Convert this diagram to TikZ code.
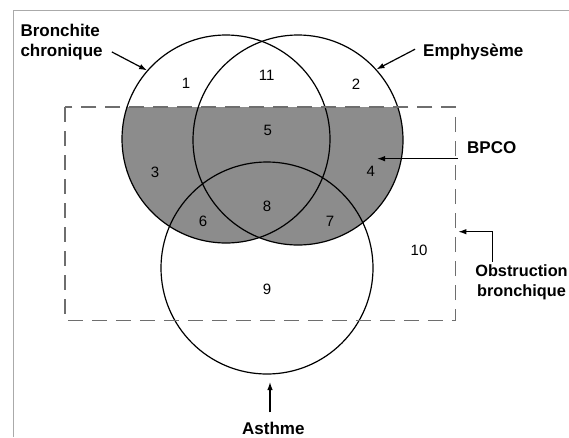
\documentclass[tikz,border=0pt]{standalone}
\usepackage{fontspec}
\setmainfont{Liberation Sans}
\usetikzlibrary{arrows.meta}
\definecolor{bpcofill}{RGB}{140,140,140}
\definecolor{dashgrey}{RGB}{110,110,110}
\definecolor{framegrey}{RGB}{170,170,170}
\tikzset{
  lbl/.style={font=\fontsize{17}{20}\selectfont\bfseries, inner sep=0pt},
  zone/.style={font=\fontsize{15}{17}\selectfont, inner sep=0pt},
  pointer/.style={line width=1.2pt, -{Latex[length=8pt,width=5.5pt]}},
  venn/.style={circle, draw, line width=1.2pt, inner sep=0pt},
  obstrbox/.style={draw=dashgrey, line width=1.7pt, dash pattern=on 15pt off 9pt}
}
\begin{document}
\begin{tikzpicture}[x=1pt,y=-1pt]
  \useasboundingbox (0,0) rectangle (569,437);
  \clip (0,0) rectangle (569,437);
  \draw[framegrey, line width=1.5pt] (13.3,437) -- (13.3,10.7) -- (569,10.7);
  \begin{scope}
    \clip (65,107.3) rectangle (569,437);
    \fill[bpcofill] (226,139) circle (104pt) (298,140) circle (105pt);
  \end{scope}
  \node[venn, minimum size=208pt] (bronchite c) at (226,139) {};
  \node[venn, minimum size=210pt] (emph c) at (298,140) {};
  \node[venn, minimum size=212pt] (asthme c) at (267,268) {};
  \draw[obstrbox] (65,107.3) rectangle (455.5,320.5);

  \node[zone] (z1) at (186,83) {1};
  \node[zone] (z2) at (356,84) {2};
  \node[zone] (z3) at (155,172) {3};
  \node[zone] (z4) at (370.7,171) {4};
  \node[zone] (z5) at (267.7,130) {5};
  \node[zone] (z6) at (203,221) {6};
  \node[zone] (z7) at (330,221) {7};
  \node[zone] (z8) at (267,206) {8};
  \node[zone] (z9) at (267,289) {9};
  \node[zone] (z10) at (419,250) {10};
  \node[zone] (z11) at (266.7,75) {11};

  \node[lbl, align=left, anchor=north west] (bronchite) at (20.3,23.7) {Bronchite\\chronique};
  \node[lbl, anchor=base west] (emph) at (423,56.7) {Emphysème};
  \node[lbl, anchor=base west] (bpco) at (467,153.3) {BPCO};
  \node[lbl, font=\fontsize{16.3}{20}\selectfont\bfseries, align=center, anchor=north] (obstr) at (521.5,264.6) {Obstruction\\bronchique};
  \node[lbl, anchor=base] (asthme) at (273.3,434) {Asthme};

  \coordinate (bpco tip) at (377,158.3);
  \coordinate (obstr tip) at (458.3,231.7);
  \coordinate (asthme tip) at (270,382);
  \draw[pointer] ([xshift=9pt,yshift=8pt]bronchite.south east) -- (bronchite c.139);
  \draw[pointer] ([xshift=-8pt,yshift=3pt]emph.west) -- (emph c.42);
  \draw[pointer] ([xshift=-9pt,yshift=-5pt]bpco.south west) coordinate (bpco from) -- (bpco from -| bpco tip);
  \draw[pointer] ([xshift=-29pt,yshift=3pt]obstr.north) |- (obstr tip);
  \draw[pointer] (asthme tip |- asthme.north) ++(0,-9) -- (asthme tip);
\end{tikzpicture}
\end{document}
